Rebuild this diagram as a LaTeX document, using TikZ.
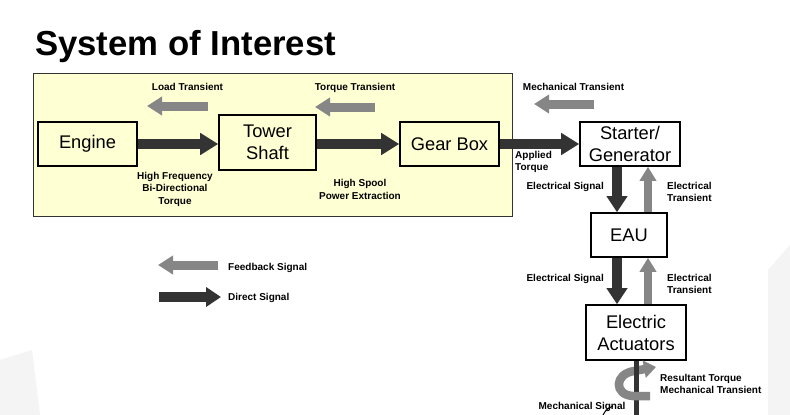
\documentclass[tikz,border=0pt]{standalone}
\usepackage{fontspec}
\setmainfont{Liberation Sans}
\usetikzlibrary{arrows.meta}
\definecolor{dk}{HTML}{333333}
\definecolor{gr}{HTML}{868686}
\definecolor{yel}{HTML}{FFFFD4}
\definecolor{wm}{HTML}{F4F4F4}
\tikzset{
  blk/.style={draw=black, line width=1.6pt, inner sep=0pt, align=center,
    font=\fontsize{18.3}{22}\selectfont},
  lbl/.style={inner sep=0pt, align=center, font=\bfseries\fontsize{10}{12.5}\selectfont},
  darr/.style={draw=dk, line width=10pt,
    -{Triangle[length=18pt,width=21pt]}},
  garr/.style={draw=gr, line width=9pt,
    -{Triangle[length=15pt,width=18pt]}},
  dvarr/.style={draw=dk, line width=10pt,
    -{Triangle[length=16pt,width=20pt]}},
  gvarr/.style={draw=gr, line width=8pt,
    -{Triangle[length=14pt,width=16pt]}}
}
\begin{document}
\begin{tikzpicture}[x=1pt,y=-1pt]
\useasboundingbox (0,0) rectangle (790,415);
\fill[white] (0,0) rectangle (790,415);
% faint watermark
\fill[wm] (768,270) -- (790,245) -- (790,415) -- (768,415) -- cycle;
\fill[wm] (0,360) -- (32,350) -- (40,415) -- (0,415) -- cycle;
% title
\node[anchor=base west, inner sep=0pt, font=\bfseries\fontsize{34.7}{40}\selectfont] (title) at (35,55) {System of Interest};
% yellow region
\node[draw=dk, line width=1pt, fill=yel, minimum width=479pt, minimum height=143pt, inner sep=0pt] (soi) at (272.5,144.5) {};
% boxes
\node[blk, fill=yel, minimum width=99pt, minimum height=44pt] (engine) at (87.5,144) {Engine};
\node[blk, fill=yel, minimum width=97pt, minimum height=55pt] (tower) at (267.5,142.5) {Tower\\Shaft};
\node[blk, fill=yel, minimum width=99pt, minimum height=44pt] (gear) at (449.5,144) {Gear Box};
\node[blk, fill=white, minimum width=100pt, minimum height=44pt] (starter) at (630,144) {Starter/\\Generator};
\node[blk, fill=white, minimum width=76pt, minimum height=44pt] (eau) at (629,235) {EAU};
\node[blk, fill=white, minimum width=100pt, minimum height=55pt] (act) at (636,332.5) {Electric\\Actuators};
% horizontal direct arrows
\draw[darr] (engine.east) -- (engine.east -| tower.west);
\draw[darr] (gear.west -| tower.east) -- (gear.west);
\draw[darr] (gear.east) -- (starter.west);
% transient arrows
\coordinate (lt1) at (208,106); \coordinate (lt2) at (147,106);
\coordinate (tt1) at (375,107); \coordinate (tt2) at (315,107);
\coordinate (mt1) at (594,104); \coordinate (mt2) at (534,104);
\draw[garr] (lt1) -- (lt2);
\draw[garr] (tt1) -- (tt2);
\draw[garr] (mt1) -- (mt2);
\node[lbl] (ltl) at (187.5,87) {Load Transient};
\node[lbl] (ttl) at (355,88) {Torque Transient};
\node[lbl] (mtl) at (573.5,87) {Mechanical Transient};
\node[lbl] (hf) at (175,189) {High Frequency\\Bi-Directional\\Torque};
\node[lbl] (hs) at (360,189.5) {High Spool\\Power Extraction};
\node[lbl, align=left, anchor=west, font=\bfseries\fontsize{10}{12}\selectfont] (at) at (515,162) {Applied\\Torque};
% vertical arrows
\coordinate (xd) at (617,0); \coordinate (xg) at (648,0);
\draw[dvarr] (starter.south -| xd) -- (eau.north -| xd);
\draw[gvarr] (eau.north -| xg) -- (starter.south -| xg);
\draw[dvarr] (eau.south -| xd) -- (act.north -| xd);
\draw[gvarr] (act.north -| xg) -- (eau.south -| xg);
\node[lbl, anchor=east] (es1) at (604,187) {Electrical Signal};
\node[lbl, align=left, anchor=west] (et1) at (667,192) {Electrical\\Transient};
\node[lbl, anchor=east] (es2) at (604,279) {Electrical Signal};
\node[lbl, align=left, anchor=west] (et2) at (667,284) {Electrical\\Transient};
% output shaft and rotation
\coordinate (shaftend) at (636,415);
\draw[dk, line width=5pt] (act.south) -- (act.south |- shaftend);
\draw[gr, line width=8.5pt, -{Triangle[length=12pt,width=17pt]}]
  (650,396) -- (633,396) .. controls (614,395) and (614,374) .. (634,371) -- (656,367);
\coordinate (shafttop) at (636,381);
\draw[dk, line width=5pt] (act.south) -- (act.south |- shafttop);
\node[lbl, align=left, anchor=west] (rt) at (660,384) {Resultant Torque\\Mechanical Transient};
\node[lbl] (ms) at (582,407) {Mechanical Signal};
\draw[black, line width=1pt] (603,415) .. controls (606,409) and (609,408) .. (613,406);
% legend
\coordinate (fb1) at (218,265); \coordinate (fb2) at (158,265);
\draw[garr] (fb1) -- (fb2);
\node[lbl, anchor=west] (fbl) at (228,268) {Feedback Signal};
\coordinate (ds1) at (159,297); \coordinate (ds2) at (221,297);
\draw[darr, -{Triangle[length=15pt,width=19pt]}] (ds1) -- (ds2);
\node[lbl, anchor=west] (dsl) at (228,298) {Direct Signal};
\end{tikzpicture}
\end{document}
